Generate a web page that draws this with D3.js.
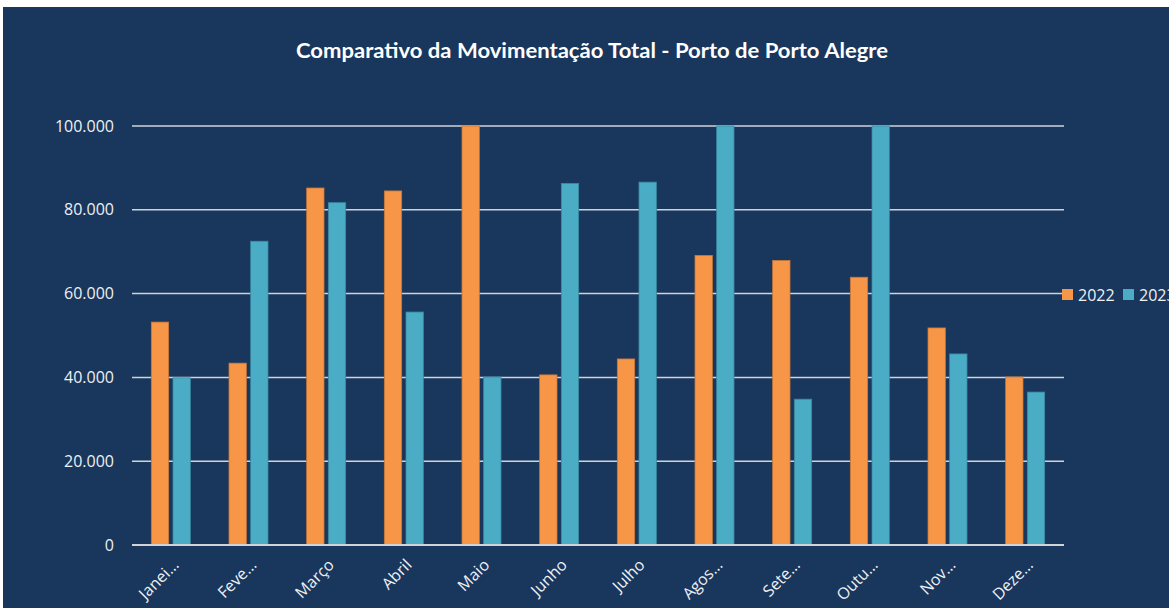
<!DOCTYPE html>
<html>
<head>
<meta charset="utf-8">
<script src="https://cdn.jsdelivr.net/npm/d3@7"></script>
<style>
  body { margin: 0; background: #ffffff; overflow: hidden; }
  svg { display: block; font-family: "Open Sans", Lato, sans-serif; }
</style>
</head>
<body>
<div id="chart"></div>
<script>
// months as shown on the axis (Excel truncates the long ones)
var months = ["Janei…", "Feve…", "Março", "Abril", "Maio", "Junho", "Julho", "Agos…", "Sete…", "Outu…", "Nov…", "Deze…"];
var seriesNames = ["2022", "2023"];
var values2022 = [53200, 43400, 85200, 84500, 100000, 40600, 44400, 69100, 67900, 63900, 51800, 40100];
var values2023 = [39900, 72500, 81700, 55600, 40100, 86300, 86600, 100000, 34800, 100000, 45600, 36500];
var yTicks = [0, 20000, 40000, 60000, 80000, 100000];
var colors = ["#F79646", "#4BACC6"];
var strokes = ["#c9783a", "#3b8aa0"];

var width = 1169, height = 608;
var margin = {top: 126, right: 105, bottom: 63, left: 132};

var svg = d3.select("#chart").append("svg")
    .attr("width", width)
    .attr("height", height);

//dark panel, offset a bit like the screenshot
svg.append("rect")
    .attr("x", 3).attr("y", 7)
    .attr("width", width).attr("height", height)
    .attr("fill", "#19365c");

svg.append("text")
    .attr("x", 592).attr("y", 58)
    .attr("text-anchor", "middle")
    .attr("fill", "#ffffff")
    .attr("textLength", 592)
    .attr("lengthAdjust", "spacingAndGlyphs")
    .style("font-family", "Lato, sans-serif")
    .style("font-size", "20px")
    .style("font-weight", "bold")
    .text("Comparativo da Movimentação Total - Porto de Porto Alegre");

var plotW = width - margin.left - margin.right;
var plotH = height - margin.top - margin.bottom;

var g = svg.append("g").attr("transform", "translate(" + margin.left + "," + margin.top + ")");

var x0 = d3.scaleBand().domain(months).range([0, plotW]).padding(0);
var x1 = d3.scaleBand().domain(seriesNames).range([-19.5, 19.5]).paddingInner(0.2);
var y = d3.scaleLinear().domain([0, 100000]).range([plotH, 0]);

var fmt = function (v) { return v === 0 ? "0" : d3.format(",")(v).replace(/,/g, "."); };

//gridlines
g.selectAll("line.grid").data(yTicks).enter().append("line")
    .attr("class", "grid")
    .attr("x1", 0).attr("x2", plotW)
    .attr("y1", function (d) { return y(d); })
    .attr("y2", function (d) { return y(d); })
    .attr("stroke", "#d0d3d8")
    .attr("stroke-width", 1.5);

g.selectAll("text.ylab").data(yTicks).enter().append("text")
    .attr("class", "ylab")
    .attr("x", -18)
    .attr("y", function (d) { return y(d); })
    .attr("dy", "0.35em")
    .attr("text-anchor", "end")
    .attr("fill", "#eef0f3")
    .style("font-size", "16px")
    .text(fmt);

var data = months.map(function (m, i) {
    return {month: m, vals: [
        {s: "2022", v: values2022[i], c: 0},
        {s: "2023", v: values2023[i], c: 1}
    ]};
});

var groups = g.selectAll("g.month").data(data).enter().append("g")
    .attr("class", "month")
    .attr("transform", function (d) { return "translate(" + (x0(d.month) + x0.bandwidth() / 2) + ",0)"; });

groups.selectAll("rect").data(function (d) { return d.vals; }).enter().append("rect")
    .attr("x", function (d) { return x1(d.s); })
    .attr("width", x1.bandwidth())
    .attr("y", function (d) { return y(d.v); })
    .attr("height", function (d) { return plotH - y(d.v); })
    .attr("fill", function (d) { return colors[d.c]; })
    .attr("stroke", function (d) { return strokes[d.c]; })
    .attr("stroke-width", 0.8);

//baseline drawn over the bars
g.append("line")
    .attr("x1", 0).attr("x2", plotW)
    .attr("y1", plotH).attr("y2", plotH)
    .attr("stroke", "#d0d3d8")
    .attr("stroke-width", 1.8);

g.selectAll("text.xlab").data(months).enter().append("text")
    .attr("class", "xlab")
    .attr("transform", function (d) {
        return "translate(" + (x0(d) + x0.bandwidth() / 2 + 9) + "," + (plotH + 21) + ") rotate(-45)";
    })
    .attr("text-anchor", "end")
    .attr("fill", "#eef0f3")
    .style("font-size", "16px")
    .text(function (d) { return d; });

//legend
var legend = svg.append("g").attr("transform", "translate(1062,289)");
var items = legend.selectAll("g").data(seriesNames).enter().append("g")
    .attr("transform", function (d, i) { return "translate(" + (i * 61) + ",0)"; });
items.append("rect")
    .attr("width", 11).attr("height", 11)
    .attr("fill", function (d, i) { return colors[i]; });
items.append("text")
    .attr("x", 16).attr("y", 6)
    .attr("dy", "0.35em")
    .attr("fill", "#eef0f3")
    .style("font-size", "16px")
    .text(function (d) { return d; });
</script>
</body>
</html>
